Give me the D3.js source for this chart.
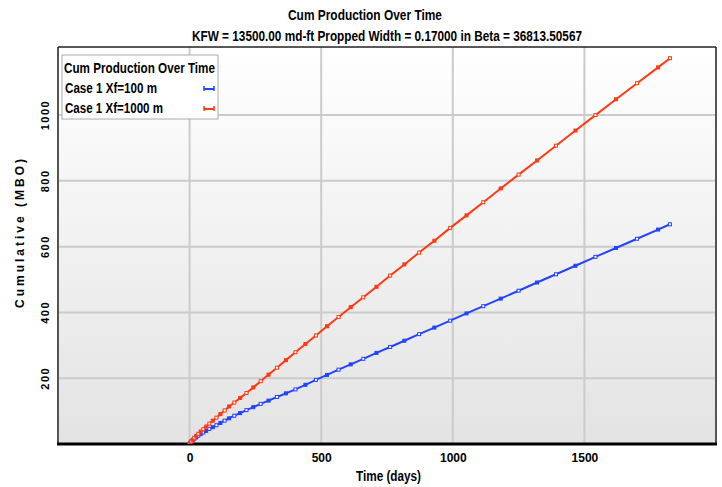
<!DOCTYPE html>
<html><head><meta charset="utf-8">
<script src="https://cdn.jsdelivr.net/npm/d3@7"></script>
<style>
body{margin:0;background:#fff;}
text{font-family:"Liberation Sans Narrow","Arial Narrow","Liberation Sans",Arial,sans-serif;}
</style></head>
<body><svg id="c" width="722" height="487"></svg>
<script>
const title = "Cum Production Over Time";
const subtitle = "KFW = 13500.00 md-ft Propped Width = 0.17000 in Beta = 36813.50567";
const xLabel = "Time (days)";
const yLabel = "Cumulative (MBO)";
const seriesNames = ["Case 1 Xf=100 m", "Case 1 Xf=1000 m"];
const seriesColors = ["#2243ff", "#ff3a12"];
const xTicks = [0, 500, 1000, 1500];
const yTicks = [200, 400, 600, 800, 1000];
const times = [0,3,7,12,18,25,33,42,52,63,75,88,102,117,133,150,170,192,216,242,270,300,332,366,402,440,480,522,566,612,660,710,762,816,872,930,990,1052,1116,1182,1250,1320,1392,1466,1542,1620,1700,1780,1825];
const cumXf100 = [0,4,8,12,16,20,25,30,35,40,46,51,57,64,71,78,86,94,103,112,122,132,143,154,166,180,195,210,226,242,259,277,295,314,334,354,375,397,419,442,466,491,516,542,569,596,624,652,668];
const cumXf1000 = [0,4,8,13,19,25,31,38,45,53,62,71,80,91,102,114,126,140,155,172,191,211,232,255,279,304,330,358,386,416,446,478,512,546,582,618,657,695,735,777,819,862,907,953,1000,1048,1097,1145,1173];

const svg = d3.select("#c");
const L=58, R=716, T=47, B=444;
const x = d3.scaleLinear().domain([-500,2000]).range([L,R]);
const y = d3.scaleLinear().domain([0,1207]).range([B,T]);

const defs = svg.append("defs");
const g = defs.append("linearGradient").attr("id","bg").attr("x1",0).attr("y1",0).attr("x2",0).attr("y2",1);
g.append("stop").attr("offset","0%").attr("stop-color","#ffffff");
g.append("stop").attr("offset","100%").attr("stop-color","#e3e3e3");
defs.append("clipPath").attr("id","clip").append("rect").attr("x",L).attr("y",T).attr("width",R-L).attr("height",B-T);

svg.append("rect").attr("x",L).attr("y",T).attr("width",R-L).attr("height",B-T).attr("fill","url(#bg)");

// grid
svg.append("g").selectAll("line").data(xTicks).join("line")
  .attr("x1",d=>x(d)).attr("x2",d=>x(d)).attr("y1",T).attr("y2",B)
  .attr("stroke","#cbcbcb").attr("stroke-width",2);
svg.append("g").selectAll("line").data(yTicks).join("line")
  .attr("y1",d=>y(d)).attr("y2",d=>y(d)).attr("x1",L).attr("x2",R)
  .attr("stroke","#cbcbcb").attr("stroke-width",2);

// frame
svg.append("line").attr("x1",L).attr("x2",L).attr("y1",T).attr("y2",B).attr("stroke","#555").attr("stroke-width",2);
svg.append("line").attr("x1",R).attr("x2",R).attr("y1",T).attr("y2",B).attr("stroke","#555").attr("stroke-width",2);
svg.append("line").attr("x1",L).attr("x2",R).attr("y1",T).attr("y2",T).attr("stroke","#222").attr("stroke-width",1.5);
svg.append("line").attr("x1",L-1).attr("x2",R+1).attr("y1",B).attr("y2",B).attr("stroke","#000").attr("stroke-width",3);

// axes
const xAxis = svg.append("g").attr("transform",`translate(0,${B})`)
  .call(d3.axisBottom(x).tickValues(xTicks).tickSize(0).tickPadding(9).tickFormat(d3.format("d")));
xAxis.select(".domain").remove();
xAxis.selectAll("text").attr("font-size",12).attr("font-weight","bold").attr("fill","#000");

const yAxis = svg.append("g").attr("transform",`translate(${L},0)`)
  .call(d3.axisLeft(y).tickValues(yTicks).tickSize(0).tickFormat(d3.format("d")));
yAxis.select(".domain").remove();
yAxis.selectAll("text").attr("x",0).attr("dy",null)
  .attr("text-anchor","middle").attr("font-size",11).attr("font-weight","bold").attr("fill","#000")
  .attr("letter-spacing","1.5px")
  .attr("transform",d=>`translate(-12,${y(d)}) rotate(-90)`).attr("y",0).attr("dominant-baseline","middle");
yAxis.selectAll(".tick").attr("transform",null);

// series
const series = [cumXf100, cumXf1000];
const line = d3.line().x((d,i)=>x(times[i])).y(d=>y(d));
const plot = svg.append("g").attr("clip-path","url(#clip)");
series.forEach((s,k)=>{
  plot.append("path").datum(s).attr("d",line).attr("fill","none")
    .attr("stroke",seriesColors[k]).attr("stroke-width",2);
  plot.append("g").selectAll("rect").data(s).join("rect")
    .attr("x",(d,i)=>x(times[i])-1.5).attr("y",d=>y(d)-1.5).attr("width",3).attr("height",3)
    .attr("fill",(d,i)=>i%2? seriesColors[k] : "#fff")
    .attr("stroke",seriesColors[k]).attr("stroke-width",1);
});

// titles
svg.append("text").attr("x",288).attr("y",20)
  .attr("font-size",14).attr("font-weight","bold")
  .attr("textLength",154).attr("lengthAdjust","spacingAndGlyphs").text(title);
svg.append("text").attr("x",192).attr("y",41)
  .attr("font-size",14).attr("font-weight","bold")
  .attr("textLength",390).attr("lengthAdjust","spacingAndGlyphs").text(subtitle);
svg.append("text").attr("x",356).attr("y",481)
  .attr("font-size",14).attr("font-weight","bold")
  .attr("textLength",65).attr("lengthAdjust","spacingAndGlyphs").text(xLabel);
svg.append("text").attr("transform","translate(24,232) rotate(-90)").attr("text-anchor","middle")
  .attr("font-size",12).attr("font-weight","bold").attr("letter-spacing","3px").text(yLabel);

// legend
const lg = svg.append("g").attr("transform","translate(62,55)");
lg.append("rect").attr("x",0).attr("y",0).attr("width",156).attr("height",64)
  .attr("fill","#fff").attr("stroke","#aaa").attr("stroke-width",1);
lg.append("text").attr("x",2).attr("y",18).attr("font-size",14).attr("font-weight","bold")
  .attr("textLength",151).attr("lengthAdjust","spacingAndGlyphs").text(title);
const nameLen = [92, 98];
seriesNames.forEach((n,k)=>{
  const yy = 38 + k*20;
  lg.append("text").attr("x",3).attr("y",yy).attr("font-size",14).attr("font-weight","bold")
    .attr("textLength",nameLen[k]).attr("lengthAdjust","spacingAndGlyphs").text(n);
  lg.append("line").attr("x1",142).attr("x2",152).attr("y1",yy-4).attr("y2",yy-4)
    .attr("stroke",seriesColors[k]).attr("stroke-width",2);
  lg.append("line").attr("x1",142).attr("x2",142).attr("y1",yy-7).attr("y2",yy-2).attr("stroke",seriesColors[k]).attr("stroke-width",1.5);
  lg.append("line").attr("x1",152).attr("x2",152).attr("y1",yy-7).attr("y2",yy-2).attr("stroke",seriesColors[k]).attr("stroke-width",1.5);
});
</script></body></html>
